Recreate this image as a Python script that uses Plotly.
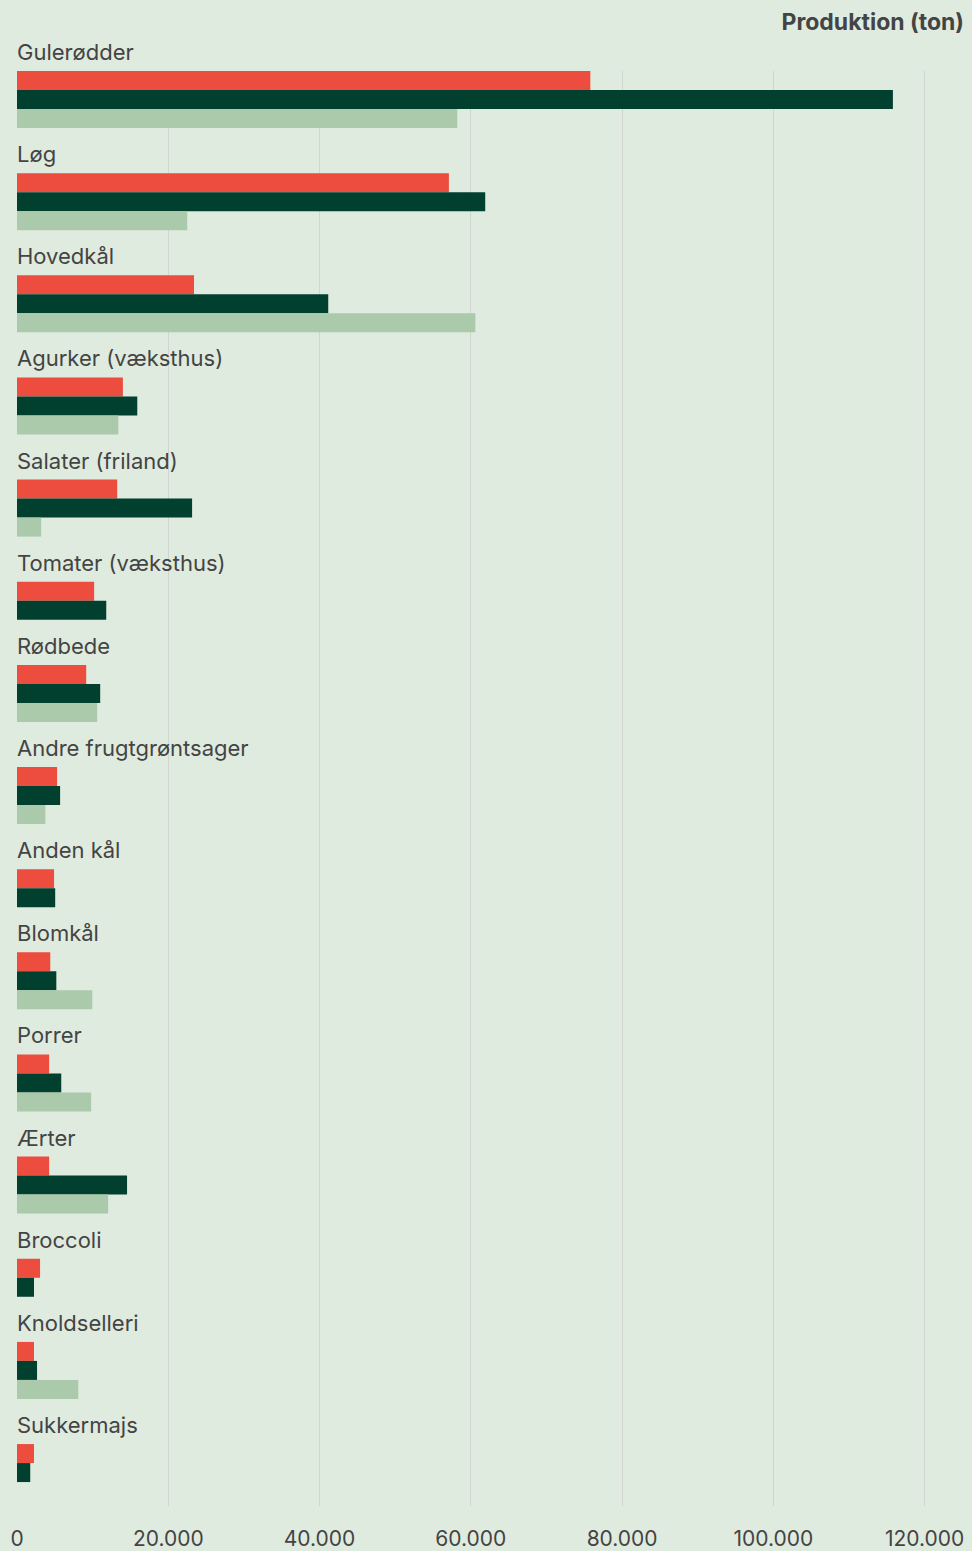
import plotly.graph_objects as go

# Grøntsagsproduktion (ton) – tre serier pr. afgrøde
kategorier = [
    "Gulerødder", "Løg", "Hovedkål", "Agurker (væksthus)", "Salater (friland)",
    "Tomater (væksthus)", "Rødbede", "Andre frugtgrøntsager", "Anden kål",
    "Blomkål", "Porrer", "Ærter", "Broccoli", "Knoldselleri", "Sukkermajs",
]
serie_roed = [75800, 57100, 23400, 14000, 13250, 10200, 9150, 5300, 4900,
              4400, 4250, 4250, 3050, 2250, 2250]
serie_moerk = [115800, 61900, 41150, 15900, 23150, 11800, 11000, 5700, 5050,
               5200, 5850, 14550, 2250, 2650, 1750]
serie_lys = [58200, 22500, 60600, 13400, 3200, None, 10600, 3750, None,
             9950, 9800, 12050, None, 8100, None]
x_ticks = [0, 20000, 40000, 60000, 80000, 100000, 120000]

serier = [serie_roed, serie_moerk, serie_lys]
farver = ["#EC4D3E", "#01402F", "#AACAAB"]
BG = "#E0EBDF"
TEKST = "#444444"
FONT = "Inter"

# Hver søjle fylder én enhed; rækker uden værdi springes over
GAP = 2.376
positioner = [[] for _ in serier]
vaerdier = [[] for _ in serier]
label_y = []
cursor = 0.0
for i, _ in enumerate(kategorier):
    label_y.append(cursor)
    slot = 0
    for s, serie in enumerate(serier):
        if serie[i] is not None:
            positioner[s].append(cursor + slot + 0.5)
            vaerdier[s].append(serie[i])
            slot += 1
    cursor += slot + GAP
bund = cursor - GAP + 1.26

fig = go.Figure()
for s in range(len(serier)):
    fig.add_trace(go.Bar(
        x=vaerdier[s], y=positioner[s], orientation="h", width=1.0,
        marker=dict(color=farver[s], line=dict(width=0)),
        hoverinfo="skip", showlegend=False,
    ))

for navn, y in zip(kategorier, label_y):
    fig.add_annotation(
        x=0, y=y, xref="x", yref="y", text=navn, showarrow=False,
        xanchor="left", yanchor="middle", xshift=-2, yshift=19,
        font=dict(family=FONT, size=22, color=TEKST),
    )

fig.update_layout(
    width=972, height=1551,
    margin=dict(l=17, r=8, t=71, b=45, pad=0),
    paper_bgcolor=BG, plot_bgcolor=BG,
    barmode="overlay",
    separators=",.",
    title=dict(
        text="<b>Produktion (ton)</b>", x=1, xref="paper", xanchor="right",
        y=1 - 22 / 1551, yref="container", yanchor="middle",
        font=dict(family=FONT, size=23, color=TEKST),
    ),
    xaxis=dict(
        range=[0, 125200], tickvals=x_ticks, tickformat=",d",
        showgrid=True, gridcolor="#D0D5D0", gridwidth=1,
        zeroline=True, zerolinecolor=BG, zerolinewidth=1,
        showline=False, ticks="", ticklabelstandoff=18, automargin=False,
        tickfont=dict(family=FONT, size=21, color=TEKST),
        fixedrange=True,
    ),
    yaxis=dict(
        range=[bund, 0], showgrid=False, zeroline=False, showline=False,
        showticklabels=False, ticks="", fixedrange=True, automargin=False,
    ),
)

fig.write_html("out.html")
